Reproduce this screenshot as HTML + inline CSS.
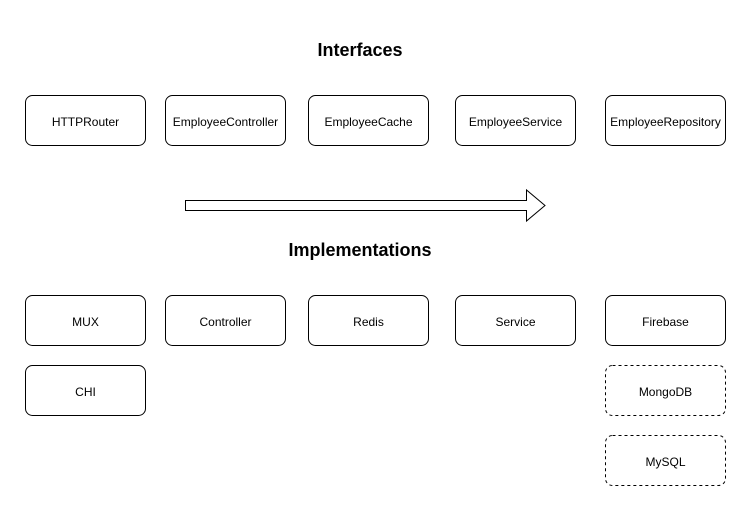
<!DOCTYPE html>
<html><head><style>
html,body{margin:0;padding:0;background:#fff;}
svg{display:block;}
text{font-family:"Liberation Sans",Arial,sans-serif;fill:#000;}
</style></head><body>
<svg width="751" height="511" viewBox="0 0 751 511" xmlns="http://www.w3.org/2000/svg">
<rect width="751" height="511" fill="#fff"/>
<text x="360" y="56" font-size="18" font-weight="bold" text-anchor="middle">Interfaces</text>
<text x="360" y="256" font-size="18" font-weight="bold" text-anchor="middle">Implementations</text>
<g fill="#fff" stroke="#000" stroke-width="1">
<rect x="25.5" y="95.5" width="120" height="50" rx="7"/>
<rect x="165.5" y="95.5" width="120" height="50" rx="7"/>
<rect x="308.5" y="95.5" width="120" height="50" rx="7"/>
<rect x="455.5" y="95.5" width="120" height="50" rx="7"/>
<rect x="605.5" y="95.5" width="120" height="50" rx="7"/>
<rect x="25.5" y="295.5" width="120" height="50" rx="7"/>
<rect x="165.5" y="295.5" width="120" height="50" rx="7"/>
<rect x="308.5" y="295.5" width="120" height="50" rx="7"/>
<rect x="455.5" y="295.5" width="120" height="50" rx="7"/>
<rect x="605.5" y="295.5" width="120" height="50" rx="7"/>
<rect x="25.5" y="365.5" width="120" height="50" rx="7"/>
<rect x="605.5" y="365.5" width="120" height="50" rx="7" stroke-dasharray="3 3"/>
<rect x="605.5" y="435.5" width="120" height="50" rx="7" stroke-dasharray="3 3"/>
<path d="M185.5 200.5 H526.5 V190 L545 205.5 L526.5 221 V210.5 H185.5 Z"/>
</g>
<g font-size="12" text-anchor="middle">
<text x="85.5" y="126">HTTPRouter</text>
<text x="225.5" y="126">EmployeeController</text>
<text x="368.5" y="126">EmployeeCache</text>
<text x="515.5" y="126">EmployeeService</text>
<text x="665.5" y="126">EmployeeRepository</text>
<text x="85.5" y="326">MUX</text>
<text x="225.5" y="326">Controller</text>
<text x="368.5" y="326">Redis</text>
<text x="515.5" y="326">Service</text>
<text x="665.5" y="326">Firebase</text>
<text x="85.5" y="396">CHI</text>
<text x="665.5" y="396">MongoDB</text>
<text x="665.5" y="466">MySQL</text>
</g>
</svg>
</body></html>
